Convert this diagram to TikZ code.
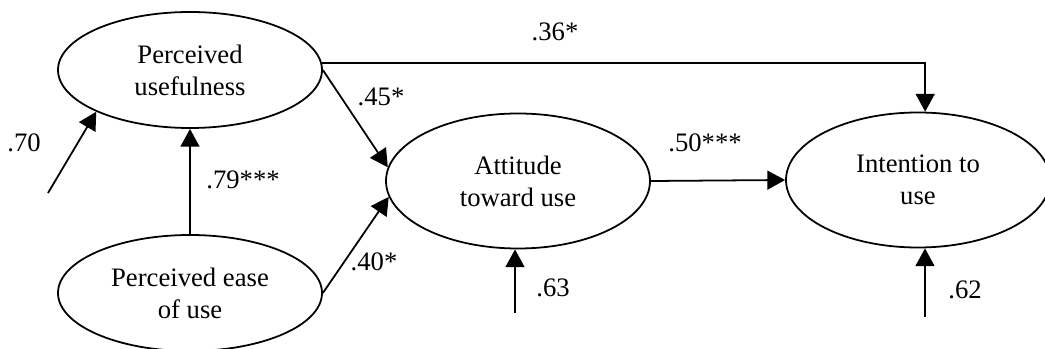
\documentclass[tikz,border=0pt]{standalone}
\usepackage{fontspec}
\setmainfont{Liberation Serif}
\usetikzlibrary{shapes.geometric,arrows.meta,calc}
\tikzset{
  lat/.style={ellipse,draw=black,line width=0.8pt,minimum width=118.8pt,minimum height=52.2pt,inner sep=0pt,align=center,font=\fontsize{12}{14.4}\selectfont},
  latbig/.style={lat,minimum height=60.75pt},
  link/.style={-{Triangle[length=8pt,width=8.5pt]},line width=0.8pt,black},
  coef/.style={font=\fontsize{12}{14.4}\selectfont,inner sep=1pt},
}
\begin{document}
\begin{tikzpicture}[x=0.45pt,y=-0.45pt]
  \useasboundingbox (0,0) rectangle (1045,349);
  % latent variables
  \node[lat](pu) at (190,70){Perceived\\usefulness};
  \node[lat](peou) at (190,293){Perceived ease\\of use};
  \node[latbig](att) at (518,181){Attitude\\toward use};
  \node[latbig](int) at (918,180){Intention to\\use};
  % error terms
  \coordinate (e1) at (48,193);
  \coordinate (e2) at (515,313);
  \coordinate (e3) at (925,317);
  % paths
  \draw[link] (peou.north) -- (pu.south);
  \draw[link] (pu.east) -- (att.174);
  \draw[link] (peou.east) -- (att.187);
  \draw[link] (att.east) -- (int.west);
  \draw[link] (pu.3) -| (int.84);
  \draw[link] (e1) -- (pu.204);
  \draw[link] (e2) -- (e2 |- att.south);
  \draw[link] (e3) -- (e3 |- int.south);
  % coefficients
  \node[coef](c70) at (24,143){.70};
  \node[coef](c79) at (243,180){.79***};
  \node[coef](c45) at (381,97){.45*};
  \node[coef](c40) at (374,262){.40*};
  \node[coef](c36) at (555,32){.36*};
  \node[coef](c50) at (705,143){.50***};
  \node[coef](c63) at (553,288){.63};
  \node[coef](c62) at (965,290){.62};
\end{tikzpicture}
\end{document}
